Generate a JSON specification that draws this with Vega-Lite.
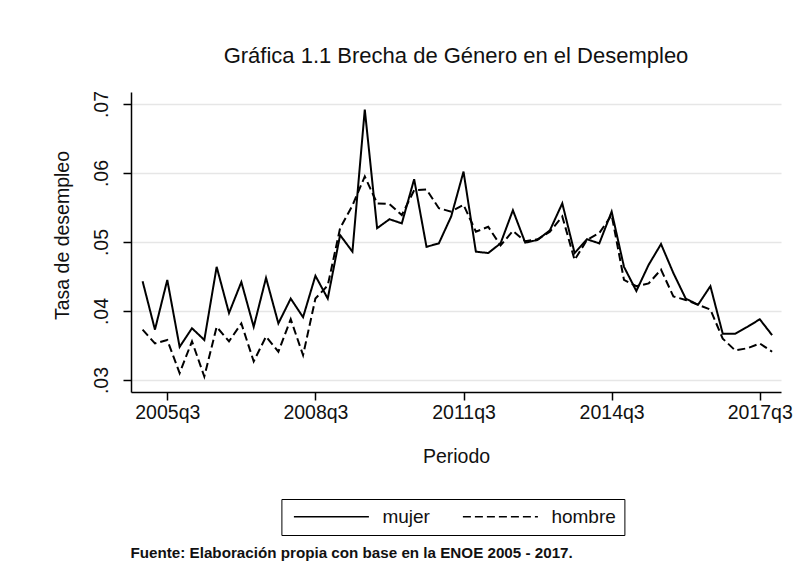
{
  "$schema": "https://vega.github.io/schema/vega-lite/v6.json",
  "background": "white",
  "padding": {"left": 52, "top": 45, "right": 10, "bottom": 5},
  "title": {
    "text": "Fuente: Elaboración propia con base en la ENOE 2005 - 2017.",
    "orient": "bottom",
    "anchor": "start",
    "font": "Liberation Sans",
    "fontSize": 15.2,
    "fontWeight": "bold",
    "color": "#111111",
    "dx": 78,
    "offset": 10
  },
  "vconcat": [
    {
      "width": 650,
      "height": 300,
      "title": {
        "text": "Gráfica 1.1 Brecha de Género en el Desempleo",
        "font": "Liberation Sans",
        "fontSize": 22,
        "fontWeight": "normal",
        "color": "#111111",
        "offset": 22,
        "dx": 0
      },
      "data": {
        "values": [
          {"t": 0, "periodo": "2005q1", "mujer": 0.0443, "hombre": 0.0373},
          {"t": 1, "periodo": "2005q2", "mujer": 0.0373, "hombre": 0.0353},
          {"t": 2, "periodo": "2005q3", "mujer": 0.0445, "hombre": 0.0358},
          {"t": 3, "periodo": "2005q4", "mujer": 0.0348, "hombre": 0.0310},
          {"t": 4, "periodo": "2006q1", "mujer": 0.0375, "hombre": 0.0356},
          {"t": 5, "periodo": "2006q2", "mujer": 0.0358, "hombre": 0.0305},
          {"t": 6, "periodo": "2006q3", "mujer": 0.0464, "hombre": 0.0377},
          {"t": 7, "periodo": "2006q4", "mujer": 0.0397, "hombre": 0.0356},
          {"t": 8, "periodo": "2007q1", "mujer": 0.0442, "hombre": 0.0382},
          {"t": 9, "periodo": "2007q2", "mujer": 0.0377, "hombre": 0.0327},
          {"t": 10, "periodo": "2007q3", "mujer": 0.0448, "hombre": 0.0363},
          {"t": 11, "periodo": "2007q4", "mujer": 0.0382, "hombre": 0.0341},
          {"t": 12, "periodo": "2008q1", "mujer": 0.0418, "hombre": 0.0388},
          {"t": 13, "periodo": "2008q2", "mujer": 0.0391, "hombre": 0.0336},
          {"t": 14, "periodo": "2008q3", "mujer": 0.0451, "hombre": 0.0418},
          {"t": 15, "periodo": "2008q4", "mujer": 0.0418, "hombre": 0.0437},
          {"t": 16, "periodo": "2009q1", "mujer": 0.0510, "hombre": 0.0520},
          {"t": 17, "periodo": "2009q2", "mujer": 0.0486, "hombre": 0.0553},
          {"t": 18, "periodo": "2009q3", "mujer": 0.0692, "hombre": 0.0595},
          {"t": 19, "periodo": "2009q4", "mujer": 0.0520, "hombre": 0.0556},
          {"t": 20, "periodo": "2010q1", "mujer": 0.0533, "hombre": 0.0555},
          {"t": 21, "periodo": "2010q2", "mujer": 0.0527, "hombre": 0.0539},
          {"t": 22, "periodo": "2010q3", "mujer": 0.0591, "hombre": 0.0575},
          {"t": 23, "periodo": "2010q4", "mujer": 0.0493, "hombre": 0.0576},
          {"t": 24, "periodo": "2011q1", "mujer": 0.0498, "hombre": 0.0549},
          {"t": 25, "periodo": "2011q2", "mujer": 0.0537, "hombre": 0.0544},
          {"t": 26, "periodo": "2011q3", "mujer": 0.0602, "hombre": 0.0554},
          {"t": 27, "periodo": "2011q4", "mujer": 0.0486, "hombre": 0.0515},
          {"t": 28, "periodo": "2012q1", "mujer": 0.0484, "hombre": 0.0522},
          {"t": 29, "periodo": "2012q2", "mujer": 0.0498, "hombre": 0.0495},
          {"t": 30, "periodo": "2012q3", "mujer": 0.0546, "hombre": 0.0516},
          {"t": 31, "periodo": "2012q4", "mujer": 0.0499, "hombre": 0.0501},
          {"t": 32, "periodo": "2013q1", "mujer": 0.0503, "hombre": 0.0504},
          {"t": 33, "periodo": "2013q2", "mujer": 0.0517, "hombre": 0.0515},
          {"t": 34, "periodo": "2013q3", "mujer": 0.0556, "hombre": 0.0537},
          {"t": 35, "periodo": "2013q4", "mujer": 0.0484, "hombre": 0.0474},
          {"t": 36, "periodo": "2014q1", "mujer": 0.0504, "hombre": 0.0503},
          {"t": 37, "periodo": "2014q2", "mujer": 0.0498, "hombre": 0.0513},
          {"t": 38, "periodo": "2014q3", "mujer": 0.0544, "hombre": 0.0539},
          {"t": 39, "periodo": "2014q4", "mujer": 0.0464, "hombre": 0.0445},
          {"t": 40, "periodo": "2015q1", "mujer": 0.0429, "hombre": 0.0436},
          {"t": 41, "periodo": "2015q2", "mujer": 0.0467, "hombre": 0.0440},
          {"t": 42, "periodo": "2015q3", "mujer": 0.0497, "hombre": 0.0460},
          {"t": 43, "periodo": "2015q4", "mujer": 0.0455, "hombre": 0.0421},
          {"t": 44, "periodo": "2016q1", "mujer": 0.0418, "hombre": 0.0416},
          {"t": 45, "periodo": "2016q2", "mujer": 0.0409, "hombre": 0.0409},
          {"t": 46, "periodo": "2016q3", "mujer": 0.0436, "hombre": 0.0402},
          {"t": 47, "periodo": "2016q4", "mujer": 0.0367, "hombre": 0.0360},
          {"t": 48, "periodo": "2017q1", "mujer": 0.0367, "hombre": 0.0343},
          {"t": 49, "periodo": "2017q2", "mujer": 0.0377, "hombre": 0.0346},
          {"t": 50, "periodo": "2017q3", "mujer": 0.0388, "hombre": 0.0353},
          {"t": 51, "periodo": "2017q4", "mujer": 0.0365, "hombre": 0.0341}
        ]
      },
      "transform": [{"fold": ["mujer", "hombre"], "as": ["sexo", "tasa"]}],
      "mark": {"type": "line", "strokeWidth": 2, "color": "black", "clip": false},
      "encoding": {
        "x": {
          "field": "t",
          "type": "quantitative",
          "scale": {"domain": [-0.94, 51.72], "nice": false, "zero": false},
          "axis": {
            "values": [2, 14, 26, 38, 50],
            "labelExpr": "(2005 + floor(datum.value / 4)) + 'q' + (datum.value % 4 + 1)",
            "grid": false,
            "tickSize": 8,
            "labelPadding": 3,
            "title": "Periodo",
            "titlePadding": 26
          }
        },
        "y": {
          "field": "tasa",
          "type": "quantitative",
          "scale": {"domain": [0.028261, 0.071739], "nice": false, "zero": false},
          "axis": {
            "values": [0.03, 0.04, 0.05, 0.06, 0.07],
            "labelExpr": "replace(format(datum.value, '.2f'), '0.', '.')",
            "labelAngle": -90,
            "tickSize": 8,
            "labelPadding": 11.5,
            "grid": true,
            "gridColor": "#e6e6e6",
            "gridWidth": 1.5,
            "title": "Tasa de desempleo",
            "titlePadding": 19,
            "titleY": 143
          }
        },
        "strokeDash": {
          "field": "sexo",
          "type": "nominal",
          "scale": {"domain": ["mujer", "hombre"], "range": [[1, 0], [8, 4]]},
          "legend": {
            "title": null,
            "orient": "none",
            "legendX": 150.4,
            "legendY": 407,
            "direction": "horizontal",
            "strokeColor": "black",
            "padding": 8,
            "columnPadding": 28,
            "labelOffset": 74,
            "symbolType": "M-1,0H14",
            "symbolSize": 100,
            "symbolStrokeWidth": 1.5,
            "symbolStrokeColor": "black",
            "labelFont": "Liberation Sans",
            "labelFontSize": 19,
            "labelColor": "#111111"
          }
        }
      }
    }
  ],
  "config": {
    "view": {"stroke": null},
    "axis": {
      "labelFont": "Liberation Sans",
      "titleFont": "Liberation Sans",
      "labelFontSize": 19.5,
      "titleFontSize": 19.5,
      "titleFontWeight": "normal",
      "labelColor": "#111111",
      "titleColor": "#111111",
      "domainColor": "black",
      "domainWidth": 1.5,
      "tickColor": "black",
      "tickWidth": 1.5
    }
  }
}
